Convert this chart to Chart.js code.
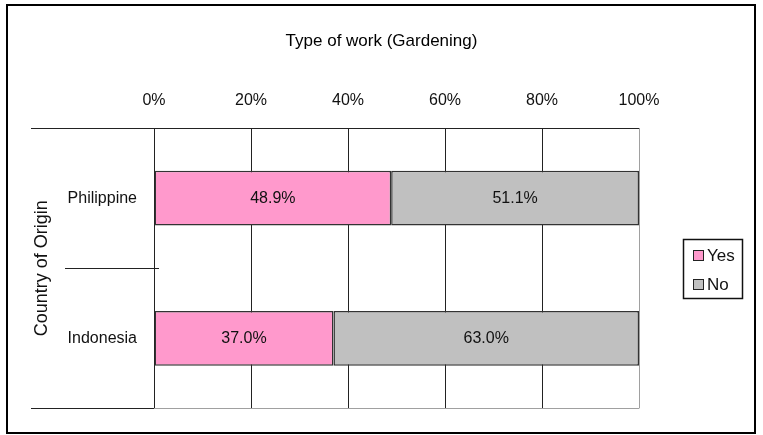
<!DOCTYPE html>
<html>
<head>
<meta charset="utf-8">
<script src="https://cdn.jsdelivr.net/npm/chart.js@4.4.0/dist/chart.umd.min.js"></script>
<style>
body { margin: 0; background: #fff; }
canvas { display: block; }
</style>
</head>
<body>
<canvas id="myChart" width="763" height="435"></canvas>
<script>
const categories = ['Philippine', 'Indonesia'];
const seriesNames = ['Yes', 'No'];
const yesValues = [48.9, 37.0];
const noValues = [51.1, 63.0];
const xTicks = [0, 20, 40, 60, 80, 100];
const chartTitle = 'Type of work (Gardening)';

const FONT = "'Liberation Sans', Arial, sans-serif";
const LINE = '#222';
const PLOT_EDGE = '#a0a0a0';

// separators left of the axis, outer frame, title, legend and bar labels
const framePlugin = {
    id: 'frame',
    beforeDatasetsDraw(chart) {
        const ctx = chart.ctx;
        const area = chart.chartArea;
        const ys = chart.scales.y;
        const half = (ys.getPixelForValue(1) - ys.getPixelForValue(0)) / 2;
        const top = Math.round(ys.getPixelForValue(0) - half) + 0.5;
        const mid = Math.round(ys.getPixelForValue(0) + half) + 0.5;
        const bottom = Math.round(ys.getPixelForValue(1) + half) + 0.5;
        ctx.save();
        ctx.lineWidth = 1;
        ctx.strokeStyle = LINE;
        ctx.beginPath();
        ctx.moveTo(31, top); ctx.lineTo(area.right, top);
        ctx.moveTo(65, mid); ctx.lineTo(area.left + 5, mid);
        ctx.moveTo(31, bottom); ctx.lineTo(area.left, bottom);
        ctx.stroke();
        ctx.strokeStyle = PLOT_EDGE;
        ctx.beginPath();
        ctx.moveTo(area.left, bottom); ctx.lineTo(area.right, bottom);
        ctx.stroke();
        ctx.restore();
    },
    afterDatasetsDraw(chart) {
        const ctx = chart.ctx;
        ctx.save();
        ctx.font = '16px ' + FONT;
        ctx.fillStyle = '#111';
        ctx.textAlign = 'center';
        ctx.textBaseline = 'middle';
        chart.data.datasets.forEach((ds, i) => {
            chart.getDatasetMeta(i).data.forEach((bar, j) => {
                ctx.fillText(ds.data[j].toFixed(1) + '%', (bar.x + bar.base) / 2, bar.y);
            });
        });
        ctx.restore();
    },
    afterDraw(chart) {
        const ctx = chart.ctx;
        ctx.save();
        // outer frame
        ctx.lineWidth = 2;
        ctx.strokeStyle = '#000';
        ctx.strokeRect(7, 5, 748, 428);
        // title, centred on the whole picture
        ctx.font = '17px ' + FONT;
        ctx.fillStyle = '#000';
        ctx.textAlign = 'center';
        ctx.textBaseline = 'middle';
        ctx.fillText(chartTitle, chart.width / 2, 41);
        // legend
        ctx.lineWidth = 1.5;
        ctx.strokeStyle = '#111';
        ctx.strokeRect(683.5, 239.5, 59, 59);
        ctx.textAlign = 'left';
        chart.data.datasets.forEach((ds, i) => {
            const cy = 256 + i * 29;
            ctx.fillStyle = ds.backgroundColor;
            ctx.fillRect(693, cy - 6, 11, 11);
            ctx.lineWidth = 1;
            ctx.strokeStyle = '#222';
            ctx.strokeRect(693.5, cy - 5.5, 10, 10);
            ctx.fillStyle = '#111';
            ctx.fillText(ds.label, 707, cy);
        });
        ctx.restore();
    }
};

const ctx = document.getElementById('myChart').getContext('2d');
const myChart = new Chart(ctx, {
    type: 'bar',
    data: {
        labels: categories,
        datasets: [{
            label: seriesNames[0],
            data: yesValues,
            backgroundColor: '#ff99cc',
            borderColor: '#333',
            borderWidth: 1.5,
            borderSkipped: false
        }, {
            label: seriesNames[1],
            data: noValues,
            backgroundColor: '#c0c0c0',
            borderColor: '#333',
            borderWidth: 1.5,
            borderSkipped: false
        }]
    },
    options: {
        indexAxis: 'y',
        responsive: false,
        animation: false,
        devicePixelRatio: 1,
        barPercentage: 0.39,
        categoryPercentage: 1,
        layout: {
            padding: { left: 0, top: 0, right: 124, bottom: 25 }
        },
        plugins: {
            legend: { display: false },
            tooltip: { enabled: false },
            title: { display: false }
        },
        scales: {
            x: {
                position: 'top',
                stacked: true,
                min: 0,
                max: 100,
                afterBuildTicks: scale => {
                    scale.ticks = xTicks.map(v => ({ value: v }));
                },
                afterFit: scale => { scale.height = 128; },
                ticks: {
                    callback: v => v + '%',
                    color: '#111',
                    padding: 18,
                    maxRotation: 0,
                    font: { family: FONT, size: 16 }
                },
                grid: {
                    drawTicks: false,
                    color: c => (c.tick && c.tick.value === 100) ? PLOT_EDGE : LINE,
                    lineWidth: 1
                },
                border: { display: false }
            },
            y: {
                stacked: true,
                afterFit: scale => { scale.width = 154; },
                ticks: {
                    color: '#111',
                    padding: 17,
                    font: { family: FONT, size: 16 }
                },
                grid: { display: false, drawTicks: false },
                border: { display: false },
                title: {
                    display: true,
                    text: 'Country of Origin',
                    color: '#111',
                    padding: { top: 31, bottom: 0 },
                    font: { family: FONT, size: 18 }
                }
            }
        }
    },
    plugins: [framePlugin]
});
</script>
</body>
</html>
